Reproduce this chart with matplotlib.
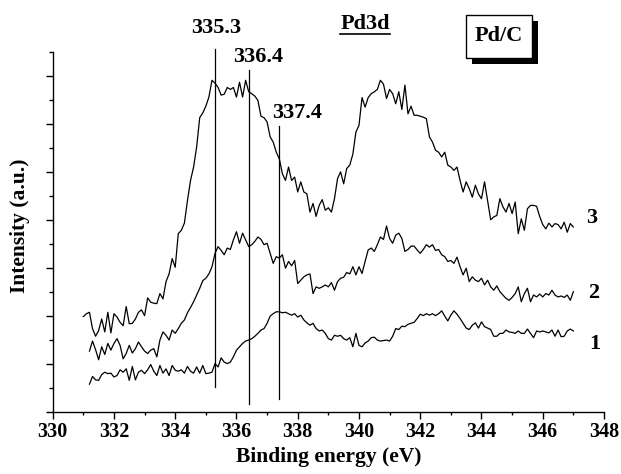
import numpy as np
import matplotlib
matplotlib.use("Agg")
import matplotlib.pyplot as plt
from matplotlib.patches import Rectangle
from matplotlib.lines import Line2D
from matplotlib.ticker import MultipleLocator

plt.rcParams['font.family'] = ['Liberation Serif', 'DejaVu Serif']
plt.rcParams['font.weight'] = 'bold'

# binding-energy sampling grid (0.1 eV steps)
energy3 = np.round(np.arange(331.0, 347.05, 0.1), 1)
energy12 = np.round(np.arange(331.2, 347.05, 0.1), 1)

spectrum3 = [
    1.98, 2.04, 2.07, 1.73, 1.57, 1.69, 1.93, 1.66, 2.07, 1.64,
    2.04, 1.97, 1.86, 1.79, 2.19, 1.83, 1.84, 1.93, 2.07, 2.12,
    2.00, 2.37, 2.28, 2.26, 2.25, 2.46, 2.35, 2.71, 2.87, 3.19,
    3.01, 3.71, 3.78, 3.93, 4.40, 4.82, 5.10, 5.52, 6.13, 6.23,
    6.37, 6.56, 6.91, 6.85, 6.76, 6.60, 6.62, 6.76, 6.72, 6.76,
    6.56, 6.87, 6.56, 6.91, 6.67, 6.63, 6.58, 6.49, 6.16, 6.13,
    6.04, 5.73, 5.62, 5.41, 5.27, 4.96, 4.82, 5.10, 4.82, 4.89,
    4.58, 4.79, 4.58, 4.54, 4.16, 4.34, 4.07, 4.30, 4.42, 4.20,
    4.25, 4.16, 4.44, 4.86, 5.00, 4.75, 5.07, 5.14, 5.37, 5.83,
    5.97, 6.55, 6.35, 6.55, 6.63, 6.67, 6.72, 6.91, 6.83, 6.53,
    6.72, 6.63, 6.42, 6.67, 6.30, 6.81, 6.21, 6.37, 6.18, 6.18,
    6.16, 6.14, 6.11, 5.73, 5.62, 5.45, 5.41, 5.31, 5.41, 5.14,
    5.10, 5.03, 5.10, 4.82, 4.58, 4.79, 4.65, 4.47, 4.72, 4.54,
    4.44, 4.79, 4.40, 4.00, 4.06, 4.09, 4.44, 4.27, 4.16, 4.34,
    4.13, 4.37, 3.71, 4.02, 3.78, 4.23, 4.30, 4.30, 4.28, 4.07,
    3.90, 3.81, 3.93, 3.85, 3.92, 3.90, 3.81, 3.95, 3.74, 3.92, 3.85,
]

spectrum2 = [
    1.26, 1.47, 1.29, 1.08, 1.35, 1.19, 1.42, 1.28,
    1.42, 1.52, 1.38, 1.10, 1.21, 1.38, 1.22, 1.31, 1.45, 1.35,
    1.26, 1.21, 1.28, 1.31, 1.14, 1.49, 1.66, 1.59, 1.49, 1.70,
    1.63, 1.73, 1.84, 1.91, 2.06, 2.17, 2.29, 2.43, 2.57, 2.73,
    2.78, 2.87, 3.02, 3.30, 3.44, 3.36, 3.27, 3.41, 3.38, 3.58,
    3.75, 3.51, 3.72, 3.58, 3.44, 3.48, 3.55, 3.64, 3.59, 3.48,
    3.51, 3.30, 3.09, 3.23, 3.20, 3.27, 2.99, 3.13, 3.04, 3.15,
    2.67, 2.74, 2.81, 2.85, 2.87, 2.46, 2.60, 2.57, 2.60, 2.64,
    2.60, 2.69, 2.53, 2.71, 2.78, 2.80, 2.90, 2.87, 3.02, 2.85,
    3.02, 2.88, 3.13, 3.37, 3.41, 3.34, 3.48, 3.64, 3.59, 3.87,
    3.61, 3.51, 3.68, 3.72, 3.61, 3.34, 3.38, 3.45, 3.45, 3.37,
    3.30, 3.38, 3.48, 3.43, 3.48, 3.36, 3.38, 3.27, 3.23, 3.13,
    3.15, 3.09, 3.22, 3.02, 2.85, 2.99, 2.71, 2.81, 2.74, 2.71,
    2.78, 2.64, 2.74, 2.60, 2.53, 2.62, 2.50, 2.43, 2.36, 2.32,
    2.38, 2.46, 2.60, 2.29, 2.46, 2.57, 2.29, 2.43, 2.39, 2.45,
    2.39, 2.46, 2.43, 2.53, 2.43, 2.39, 2.41, 2.38, 2.43, 2.32, 2.50,
]

spectrum1 = [
    0.57, 0.73, 0.66, 0.65, 0.77, 0.82, 0.79, 0.80,
    0.72, 0.75, 0.87, 0.82, 0.89, 0.65, 0.94, 0.66, 0.82, 0.86,
    0.79, 0.87, 0.98, 0.84, 0.75, 0.96, 0.80, 0.89, 0.75, 0.96,
    0.86, 0.84, 0.87, 0.80, 0.94, 0.84, 0.80, 0.93, 0.80, 0.96,
    0.79, 0.80, 0.82, 1.00, 0.93, 1.12, 1.03, 1.00, 1.03, 1.14,
    1.28, 1.35, 1.42, 1.47, 1.49, 1.52, 1.57, 1.63, 1.70, 1.73,
    1.84, 1.99, 2.04, 2.08, 2.08, 2.06, 2.07, 2.04, 2.01, 2.04,
    1.97, 2.01, 1.91, 1.85, 1.80, 1.84, 1.73, 1.68, 1.70, 1.63,
    1.52, 1.49, 1.59, 1.57, 1.59, 1.52, 1.49, 1.54, 1.35, 1.63,
    1.38, 1.35, 1.43, 1.47, 1.54, 1.55, 1.49, 1.47, 1.48, 1.49,
    1.47, 1.57, 1.73, 1.71, 1.78, 1.77, 1.82, 1.84, 1.86, 1.94,
    2.03, 2.00, 2.04, 2.01, 2.04, 2.00, 2.04, 2.10, 1.99, 1.89,
    2.01, 2.10, 2.03, 1.94, 1.84, 1.74, 1.71, 1.80, 1.85, 1.74,
    1.87, 1.77, 1.74, 1.71, 1.57, 1.57, 1.63, 1.63, 1.70, 1.66,
    1.65, 1.63, 1.68, 1.63, 1.63, 1.72, 1.63, 1.54, 1.68, 1.66,
    1.68, 1.66, 1.64, 1.70, 1.57, 1.70, 1.56, 1.57, 1.68, 1.72, 1.68,
]

peak_positions = [335.3, 336.4, 337.4]
peak_labels = ["335.3", "336.4", "337.4"]
peak_line_bottoms = [0.52, 0.16, 0.27]
peak_line_tops = [7.57, 7.12, 5.95]
peak_label_xy = [(335.33, 8.00), (336.70, 7.39), (337.97, 6.23)]

curve_labels = ["3", "2", "1"]
curve_label_xy = [(347.60, 4.04), (347.66, 2.48), (347.71, 1.40)]

xticks = list(range(330, 349, 2))

fig = plt.figure(figsize=(6.21, 4.74), dpi=100)
left_px, right_px, bottom_px, top_px = 52.7, 604.0, 411.5, 52.0
ax = fig.add_axes([left_px / 621, (474 - bottom_px) / 474,
                   (right_px - left_px) / 621, (bottom_px - top_px) / 474])

lw = 0.9
ax.plot(energy3, spectrum3, color='black', lw=lw)
ax.plot(energy12, spectrum2, color='black', lw=lw)
ax.plot(energy12, spectrum1, color='black', lw=lw)

for x, b, t in zip(peak_positions, peak_line_bottoms, peak_line_tops):
    ax.plot([x, x], [b, t], color='black', lw=0.9, clip_on=False)

for lab, (x, y) in zip(peak_labels, peak_label_xy):
    ax.text(x, y, lab, ha='center', va='center', fontsize=16, fontweight='bold')

for lab, (x, y) in zip(curve_labels, curve_label_xy):
    ax.text(x, y, lab, ha='center', va='center', fontsize=16, fontweight='bold')

ax.set_xlim(330, 348)
ax.set_ylim(0, 7.5)
ax.set_xticks(xticks)
ax.set_xticklabels([str(v) for v in xticks])
ax.xaxis.set_minor_locator(MultipleLocator(1))
ax.yaxis.set_major_locator(MultipleLocator(1))
ax.yaxis.set_minor_locator(MultipleLocator(0.5))
ax.set_yticklabels([])
ax.tick_params(axis='x', which='major', length=4.8, width=1.0, labelsize=14.5, pad=3)
ax.tick_params(axis='x', which='minor', length=2.4, width=1.0)
ax.tick_params(axis='y', which='major', length=5.0, width=1.0)
ax.tick_params(axis='y', which='minor', length=2.8, width=1.0)
for lab in ax.get_xticklabels():
    lab.set_fontweight('bold')
for s in ['top', 'right']:
    ax.spines[s].set_visible(False)
for s in ['left', 'bottom']:
    ax.spines[s].set_linewidth(1.0)

fig.text(329 / 621, 1 - 457 / 474, "Binding energy (eV)", ha='center', va='center',
         fontsize=15.5, fontweight='bold')
fig.text(20 / 621, 1 - 226 / 474, "Intensity (a.u.)", ha='center', va='center',
         rotation=90, fontsize=15.5, fontweight='bold')

# Pd3d underlined title
fig.text(365 / 621, 1 - 24 / 474, "Pd3d", ha='center', va='center', fontsize=16, fontweight='bold')
fig.add_artist(Line2D([340 / 621, 390 / 621], [1 - 33.5 / 474, 1 - 33.5 / 474],
                      transform=fig.transFigure, color='black', lw=1.2))

# Pd/C box with shadow
fig.add_artist(Rectangle((472 / 621, (474 - 63.5) / 474), 66 / 621, 43 / 474,
                         transform=fig.transFigure, facecolor='black', edgecolor='black', lw=0))
fig.add_artist(Rectangle((466 / 621, (474 - 57.5) / 474), 66 / 621, 43 / 474,
                         transform=fig.transFigure, facecolor='white', edgecolor='black', lw=1.0))
fig.text(499 / 621, 1 - 36 / 474, "Pd/C", ha='center', va='center', fontsize=16, fontweight='bold')

fig.savefig("out.png", dpi=100)
